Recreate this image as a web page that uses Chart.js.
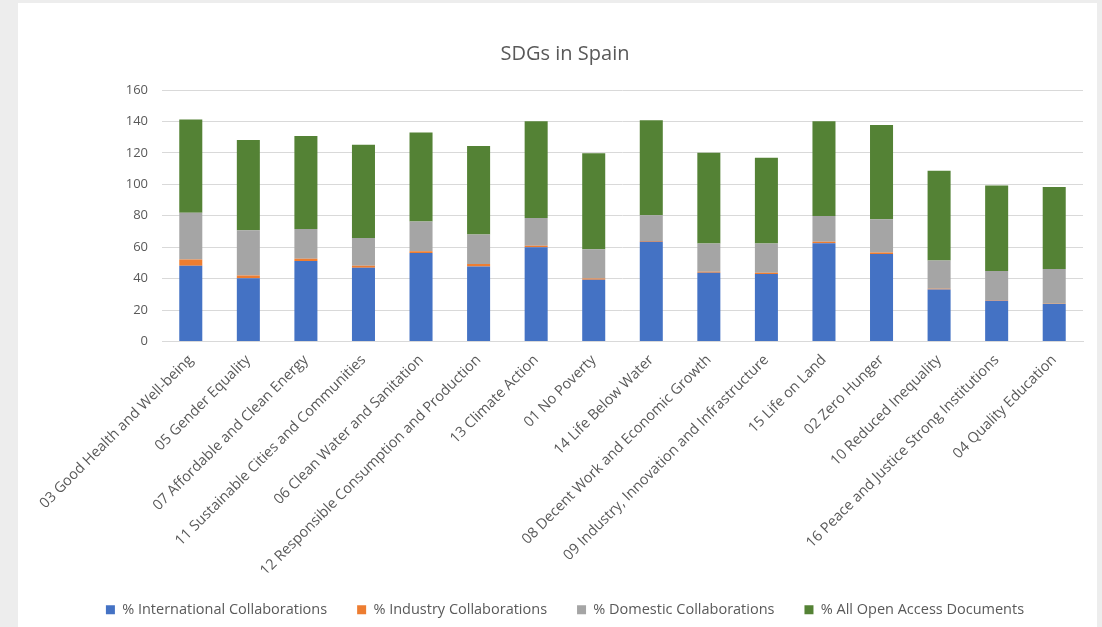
<!DOCTYPE html>
<html>
<head>
<meta charset="utf-8">
<script src="https://cdn.jsdelivr.net/npm/chart.js@4"></script>
<style>
  html, body { margin: 0; padding: 0; background: #ededed; overflow: hidden; }
  .card { position: absolute; left: 18px; top: 3px; width: 1079px; height: 624px; background: #fff; overflow: hidden; }
  .card canvas { display: block; }
</style>
</head>
<body>
<div class="card"><canvas id="sdgChart" width="1094" height="624"></canvas></div>
<script>
const categories = [
  "03 Good Health and Well-being",
  "05 Gender Equality",
  "07 Affordable and Clean Energy",
  "11 Sustainable Cities and Communities",
  "06 Clean Water and Sanitation",
  "12 Responsible Consumption and Production",
  "13 Climate Action",
  "01 No Poverty",
  "14 Life Below Water",
  "08 Decent Work and Economic Growth",
  "09 Industry, Innovation and Infrastructure",
  "15 Life on Land",
  "02 Zero Hunger",
  "10 Reduced Inequality",
  "16 Peace and Justice Strong Institutions",
  "04 Quality Education"
];

const international = [48.2, 40.3, 51.2, 46.9, 56.3, 47.8, 59.9, 39.3, 63.4, 43.7, 42.9, 62.5, 55.7, 33.1, 26.0, 23.9];
const industry      = [3.9, 1.7, 1.5, 1.3, 1.1, 1.5, 1.1, 0.8, 0.6, 0.7, 0.8, 0.9, 1.0, 0.4, 0.2, 0.2];
const domestic      = [29.8, 28.8, 18.8, 17.7, 19.0, 18.8, 17.5, 18.6, 16.4, 17.9, 18.6, 16.4, 21.0, 18.1, 18.6, 22.0];
const openAccess    = [59.3, 57.4, 59.3, 59.3, 56.5, 56.3, 61.7, 61.0, 60.4, 57.8, 54.6, 60.4, 60.1, 57.0, 54.4, 52.2];

const yTicks = { min: 0, max: 160, step: 20 };

const textColor = "#595959";
const gridColor = "#d9d9d9";
const font = "'Open Sans', sans-serif";

const chartEl = document.getElementById("sdgChart");

// stacked column chart
new Chart(chartEl, {
  type: "bar",
  data: {
    labels: categories,
    datasets: [
      { label: "% International Collaborations", data: international, backgroundColor: "#4472C4" },
      { label: "% Industry Collaborations", data: industry, backgroundColor: "#ED7D31" },
      { label: "% Domestic Collaborations", data: domestic, backgroundColor: "#A5A5A5" },
      { label: "% All Open Access Documents", data: openAccess, backgroundColor: "#548235" },
    ],
  },
  options: {
    responsive: false,
    animation: false,
    datasets: {
      bar: { barPercentage: 0.4, categoryPercentage: 1.0 },
    },
    layout: {
      padding: { left: 29, right: 29, top: 0, bottom: 0 },
    },
    scales: {
      x: {
        stacked: true,
        grid: { display: false, drawTicks: false },
        border: { color: gridColor },
        ticks: {
          color: textColor,
          font: { family: font, size: 14.5 },
          minRotation: 45,
          maxRotation: 45,
          padding: 10,
        },
        // tighten the label band a little so the plot sits lower
        afterFit: (scale) => { scale.height -= 17; },
      },
      y: {
        stacked: true,
        min: yTicks.min,
        max: yTicks.max,
        grid: { color: gridColor, drawTicks: false },
        border: { display: false },
        ticks: {
          stepSize: yTicks.step,
          color: textColor,
          font: { family: font, size: 13 },
          padding: 14,
        },
        afterFit: (scale) => { scale.width = 115; },
      },
    },
    plugins: {
      title: {
        display: true,
        text: "SDGs in Spain",
        color: textColor,
        font: { family: font, size: 20, weight: "normal" },
        padding: { top: 39, bottom: 24 },
      },
      legend: {
        position: "bottom",
        labels: {
          color: textColor,
          font: { family: font, size: 14.5 },
          boxWidth: 9,
          boxHeight: 9,
          padding: 30,
        },
      },
      tooltip: { enabled: false },
    },
  },
});
</script>
</body>
</html>
